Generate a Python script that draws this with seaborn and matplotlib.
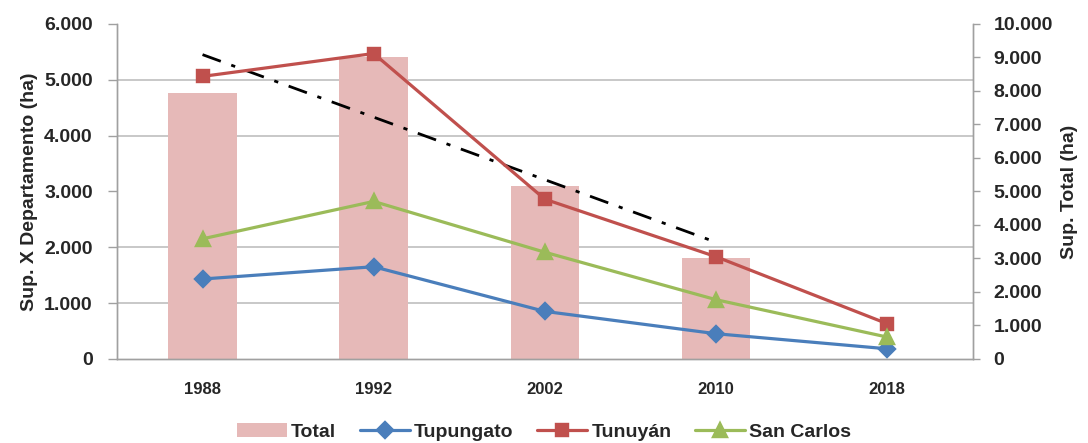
import numpy as np
import matplotlib
matplotlib.use("Agg")
import matplotlib.pyplot as plt
import matplotlib.ticker as mticker
import seaborn as sns

years = ["1988", "1992", "2002", "2010", "2018"]
total_years = ["1988", "1992", "2002", "2010"]
total = [7950, 9010, 5160, 3010]
tupungato = [1430, 1650, 850, 450, 180]
tunuyan = [5060, 5470, 2860, 1830, 630]
san_carlos = [2150, 2820, 1910, 1060, 390]

sns.set_style("white")
plt.rcParams['font.family'] = ['Liberation Sans', 'DejaVu Sans']

fig = plt.figure(figsize=(10.88, 4.43), dpi=100)
ax = fig.add_axes([0.1075, 0.19, 0.7865, 0.756])
ax2 = ax.twinx()

# bars on right scale (behind)
sns.barplot(x=total_years, y=total, order=years, color="#E6B9B8", width=0.4,
            saturation=1, ax=ax2, label="Total", zorder=1, linewidth=0)

# linear trend of the totals
idx = np.arange(len(total))
coef = np.polyfit(idx, total, 1)
ax2.plot(idx, np.polyval(coef, idx), color="black", linestyle=(0, (7, 4, 1.5, 4)),
         linewidth=2, zorder=3)

ax2.set_ylim(0, 10000)
ax2.yaxis.set_major_locator(mticker.MultipleLocator(1000))
ax2.yaxis.set_minor_locator(mticker.FixedLocator(np.arange(0, 6001, 1000) * 10000 / 6000))
ax2.grid(which="minor", axis="y", color="#BFBFBF", linewidth=1.2, zorder=0)
ax2.set_axisbelow(True)
ax2.tick_params(axis="y", which="minor", length=0)
ax2.tick_params(axis="y", which="major", length=5, color="#A0A0A0", width=1, pad=10)

# department lines on left scale
series = [("Tupungato", tupungato, "#4A7EBB", "D", 8),
          ("Tunuyán", tunuyan, "#C0504D", "s", 9),
          ("San Carlos", san_carlos, "#9BBB59", "^", 10)]
for name, vals, col, mk, ms in series:
    sns.pointplot(x=years, y=vals, order=years, color=col, marker=mk, markersize=ms,
                  linewidth=2.3, ax=ax, label=name)

h1, l1 = ax2.get_legend_handles_labels()
h2, l2 = ax.get_legend_handles_labels()
for a in (ax, ax2):
    if a.get_legend() is not None:
        a.get_legend().remove()

ax.set_ylim(0, 6000)
ax.set_xlim(-0.5, 4.5)
ax.yaxis.set_major_locator(mticker.MultipleLocator(1000))
ax.tick_params(axis="y", length=6.5, color="#A0A0A0", width=1, pad=11)

ax.set_zorder(ax2.get_zorder() + 1)
ax.patch.set_visible(False)

fmt = mticker.FuncFormatter(lambda v, p: f"{int(round(v)):,}".replace(",", "."))
ax.yaxis.set_major_formatter(fmt)
ax2.yaxis.set_major_formatter(fmt)

for a in (ax, ax2):
    for s in a.spines.values():
        s.set_color("#A0A0A0")
        s.set_linewidth(1)
    a.spines["top"].set_visible(False)
    for lab in a.get_yticklabels():
        lab.set_fontsize(14)
        lab.set_fontweight("bold")
        lab.set_color("#262626")

ax.set_xticks(range(len(years)))
ax.set_xticklabels(years, fontsize=12, fontweight="bold", color="#262626")
ax.set_xticks(np.arange(-0.5, 5, 1), minor=True)
ax.tick_params(axis="x", which="major", length=0, pad=17)
ax.tick_params(axis="x", which="minor", length=6, color="#A0A0A0", width=1)
ax2.tick_params(axis="x", length=0)

ax.set_xlabel("")
ax.set_ylabel("Sup. X Departamento (ha)", fontsize=14, fontweight="bold", labelpad=4)
ax2.set_ylabel("Sup. Total (ha)", fontsize=14, fontweight="bold", labelpad=6)

fig.legend(h1 + h2, l1 + l2, loc="lower center", ncol=4, frameon=False,
           bbox_to_anchor=(0.5, -0.035), prop={"size": 14, "weight": "bold"},
           handlelength=2.6, columnspacing=1.2, handletextpad=0.2)

fig.savefig("out.png", dpi=100)
